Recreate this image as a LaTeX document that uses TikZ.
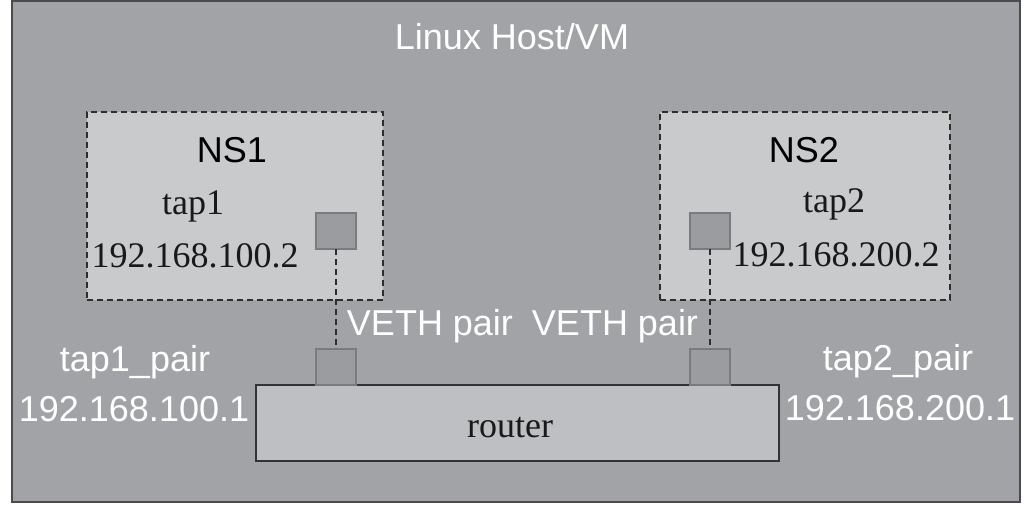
\documentclass[tikz,border=0pt]{standalone}
\usepackage{fontspec}
\setmainfont{Liberation Serif}
\setsansfont{Liberation Sans}
\definecolor{hostgray}{RGB}{162,163,167}
\definecolor{hostborder}{RGB}{75,75,78}
\definecolor{nsfill}{RGB}{201,202,204}
\definecolor{routerfill}{RGB}{190,191,194}
\definecolor{portfill}{RGB}{155,156,160}
\definecolor{portborder}{RGB}{122,123,126}
\definecolor{dashcol}{RGB}{45,45,45}
\begin{document}
\begin{tikzpicture}[x=1pt,y=-1pt,
  box/.style={anchor=north west, inner sep=0pt, outer sep=0pt},
  nsbox/.style={box, draw=dashcol, fill=nsfill, line width=1.4pt, dash pattern=on 6pt off 4pt},
  portbox/.style={box, draw=portborder, fill=portfill, line width=1.5pt, minimum width=40, minimum height=36},
  vline/.style={draw=dashcol, line width=1.4pt, dash pattern=on 6pt off 4pt},
  wlabel/.style={anchor=base, inner sep=0pt, text=white, font=\sffamily\fontsize{36}{40}\selectfont},
  blabel/.style={anchor=base, inner sep=0pt, text=black, font=\sffamily\fontsize{36}{40}\selectfont},
  slabel/.style={anchor=base, inner sep=0pt, text=black!90, font=\rmfamily\fontsize{36}{40}\selectfont}]
\useasboundingbox (0,0) rectangle (1036,508);
% host
\node[box, draw=hostborder, fill=hostgray, line width=2pt, minimum width=1008, minimum height=501] (host) at (12,1) {};
\node[wlabel] (hosttitle) at (512,50) {Linux Host/VM};
% namespaces
\node[nsbox, minimum width=296, minimum height=188] (ns1) at (87,112) {};
\node[nsbox, minimum width=290, minimum height=188] (ns2) at (660,112) {};
\node[blabel] (ns1t) at (232,163) {NS1};
\node[blabel] (ns2t) at (804,162) {NS2};
\node[slabel] (tap1) at (193,214) {tap1};
\node[slabel] (ip1) at (195,267) {192.168.100.2};
\node[slabel] (tap2) at (834,212) {tap2};
\node[slabel] (ip2) at (836,266) {192.168.200.2};
% router
\node[box, draw=black!80, fill=routerfill, line width=1.5pt, minimum width=523, minimum height=76] (router) at (256,385) {};
\node[slabel] (routert) at (510,437) {router};
% ports
\node[portbox] (t1) at (316,213) {};
\node[portbox] (t2) at (690,213) {};
\node[portbox] (p1) at (316,349) {};
\node[portbox] (p2) at (690,349) {};
% veth links
\draw[vline] (t1.south) -- (p1.north);
\draw[vline] (t2.south) -- (p2.north);
\node[wlabel] (veth1) at (430,335) {VETH pair};
\node[wlabel] (veth2) at (615,335) {VETH pair};
% outer labels
\node[wlabel] (tp1) at (135,371) {tap1\_pair};
\node[wlabel] (tp1ip) at (134,421) {192.168.100.1};
\node[wlabel] (tp2) at (898,370) {tap2\_pair};
\node[wlabel] (tp2ip) at (900,420) {192.168.200.1};
\end{tikzpicture}
\end{document}
